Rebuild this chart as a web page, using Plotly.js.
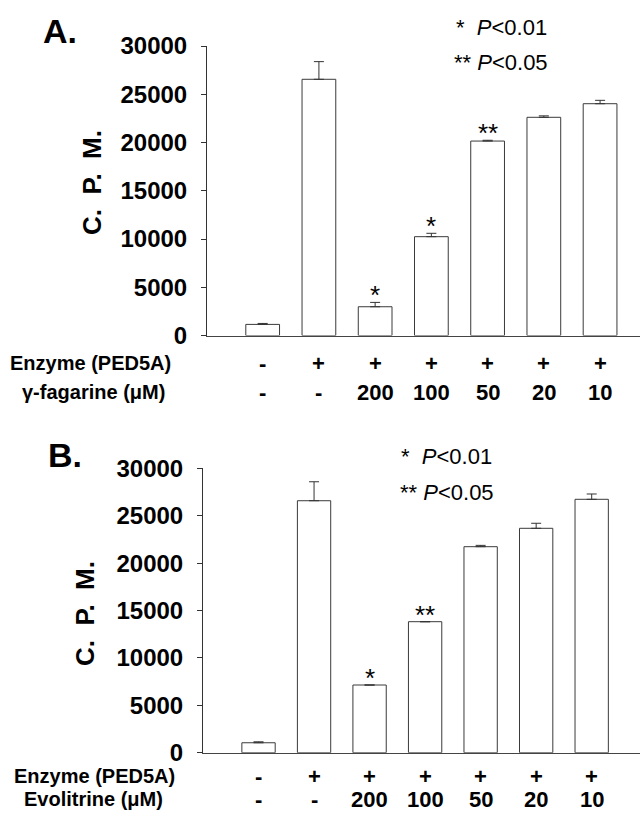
<!DOCTYPE html>
<html>
<head>
<meta charset="utf-8">
<script src="https://cdn.plot.ly/plotly-3.0.1.min.js"></script>
<style>html,body{margin:0;padding:0;background:#fff;}#chart{width:640px;height:814px;}</style>
</head>
<body>
<div id="chart"></div>
<script>
// ---- data ----
const categories = [0, 1, 2, 3, 4, 5, 6];
const enzymeRow = ['-', '+', '+', '+', '+', '+', '+'];
const concRow = ['-', '-', '200', '100', '50', '20', '10'];

const valuesA = [1150, 26550, 2980, 10240, 20150, 22610, 24020];
const errorsA = [100, 1830, 450, 350, 80, 150, 350];
const starsA = ['', '', '*', '*', '**', '', ''];

const valuesB = [1050, 26580, 7140, 13820, 21730, 23670, 26730];
const errorsB = [100, 2000, 0, 0, 140, 530, 560];
const starsB = ['', '', '*', '**', '', '', ''];

const yTicks = [0, 5000, 10000, 15000, 20000, 25000, 30000];
const panelLabels = ['A.', 'B.'];
const rowLabelsA = ['Enzyme (PED5A)', 'γ-fagarine (μM)'];
const rowLabelsB = ['Enzyme (PED5A)', 'Evolitrine (μM)'];
const yTitle = 'C.\u00a0 P.\u00a0 M.';

// ---- helpers ----
const H = 814, W = 640;
const py = p => (H - p) / H;
const px = p => p / W;
const FONT = 'Liberation Sans, Arial, sans-serif';

function barTrace(vals, errs, xa, ya) {
  return {
    type: 'bar', x: categories, y: vals, xaxis: xa, yaxis: ya, width: 0.6,
    marker: {color: '#ffffff', line: {color: '#3a3a3a', width: 1}},
    error_y: {type: 'data', symmetric: false, array: errs, arrayminus: errs.map(() => 0),
              color: '#333', thickness: 1, width: 5},
    hoverinfo: 'skip', showlegend: false
  };
}

function yaxisDef(domain) {
  return {
    domain: domain, range: [0, 30000], tickvals: yTicks, ticktext: yTicks.map(String),
    showline: true, linecolor: '#333', linewidth: 1, ticks: 'outside', ticklen: 5,
    tickcolor: '#333', showgrid: false, zeroline: false, fixedrange: true,
    tickfont: {family: FONT, size: 24, color: '#000', weight: 'bold'}, ticklabelstandoff: 9
  };
}
function xaxisDef(domain, range, anchor) {
  return {
    domain: domain, range: range, anchor: anchor, showline: true, linecolor: '#444', linewidth: 1,
    ticks: '', showticklabels: false, showgrid: false, zeroline: false, fixedrange: true
  };
}

const ann = [];
function A(o) { ann.push(Object.assign({showarrow: false, xanchor: 'center', yanchor: 'middle', borderpad: 0}, o)); }
function addPanel(opts) {
  const {xref, yref, stars, vals, errs, rowLabels, rows, rowY, rowLabelX, label, labelXY, yTitleXY, legXY} = opts;
  // significance stars
  categories.forEach((c, i) => {
    if (stars[i]) A({xref: xref, yref: yref, x: c, y: vals[i] + errs[i], yanchor: 'bottom',
      text: stars[i], yshift: -9, font: {family: FONT, size: 26, color: '#000'}});
  });
  // category rows
  rows.forEach((row, r) => {
    row.forEach((t, i) => A({xref: xref, yref: 'paper', x: categories[i], y: py(rowY[r]),
      text: t, font: {family: FONT, size: 22, color: '#000', weight: 'bold'}}));
    A({xref: 'paper', yref: 'paper', x: px(rowLabelX[r]), y: py(rowY[r]),
      text: rowLabels[r], font: {family: FONT, size: 20, color: '#000', weight: 'bold'}});
  });
  // panel label
  A({xref: 'paper', yref: 'paper', x: px(labelXY[0]), y: py(labelXY[1]), xanchor: 'left',
    text: label, font: {family: FONT, size: 34, color: '#000', weight: 'bold'}});
  // y title
  A({xref: 'paper', yref: 'paper', x: px(yTitleXY[0]), y: py(yTitleXY[1]), textangle: -90,
    text: yTitle, font: {family: FONT, size: 26, color: '#000', weight: 'bold'}});
  // significance legend
  A({xref: 'paper', yref: 'paper', x: px(legXY[0][0]), y: py(legXY[0][1]), xanchor: 'left',
    text: '*\u00a0 <i>P</i>&lt;0.01', font: {family: FONT, size: 22, color: '#000'}});
  A({xref: 'paper', yref: 'paper', x: px(legXY[1][0]), y: py(legXY[1][1]), xanchor: 'left',
    text: '**\u00a0<i>P</i>&lt;0.05', font: {family: FONT, size: 22, color: '#000'}});
}

addPanel({xref: 'x', yref: 'y', stars: starsA, vals: valuesA, errs: errorsA,
  rowLabels: rowLabelsA, rows: [enzymeRow, concRow], rowY: [363, 392], rowLabelX: [90, 93],
  label: panelLabels[0], labelXY: [42, 31], yTitleXY: [92, 183], legXY: [[455, 27], [453, 63]]});
addPanel({xref: 'x2', yref: 'y2', stars: starsB, vals: valuesB, errs: errorsB,
  rowLabels: rowLabelsB, rows: [enzymeRow, concRow], rowY: [776, 799], rowLabelX: [94, 93],
  label: panelLabels[1], labelXY: [47, 455], yTitleXY: [85, 614], legXY: [[400, 456], [399, 493]]});

const data = [barTrace(valuesA, errorsA, 'x', 'y'), barTrace(valuesB, errorsB, 'x2', 'y2')];

const layout = {
  width: W, height: H, margin: {l: 0, r: 0, t: 0, b: 0},
  paper_bgcolor: '#fff', plot_bgcolor: 'rgba(0,0,0,0)', showlegend: false,
  font: {family: FONT, color: '#000'},
  xaxis: xaxisDef([px(207), 1], [-0.99, 6.71], 'y'),
  yaxis: Object.assign(yaxisDef([py(335.5), py(46)]), {anchor: 'x'}),
  xaxis2: xaxisDef([px(203), 1], [-1.0, 6.87], 'y2'),
  yaxis2: Object.assign(yaxisDef([py(752.7), py(468.3)]), {anchor: 'x2'}),
  annotations: ann
};

Plotly.newPlot('chart', data, layout, {staticPlot: true, displayModeBar: false});
</script>
</body>
</html>
